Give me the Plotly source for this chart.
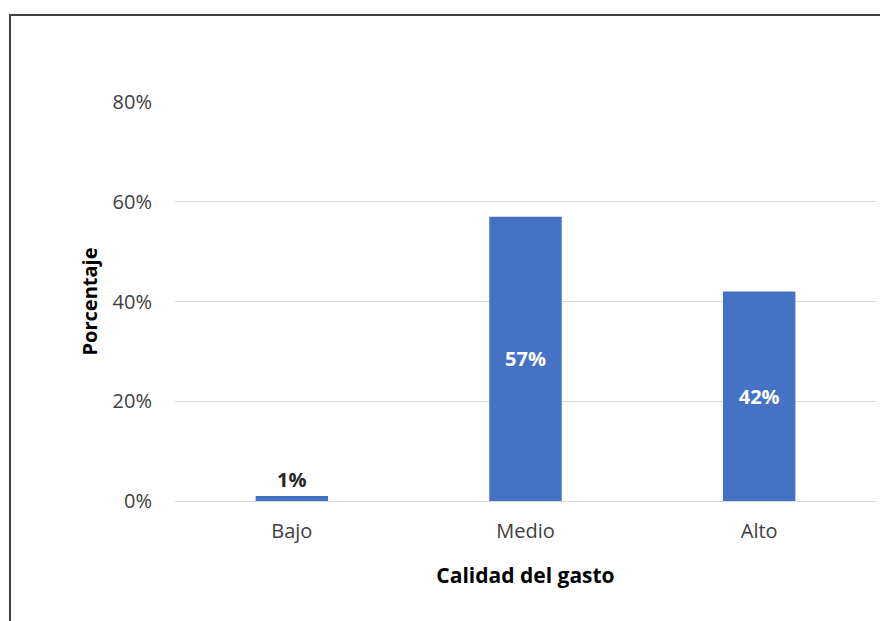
import plotly.graph_objects as go

categories = ["Bajo", "Medio", "Alto"]
values = [0.01, 0.57, 0.42]
labels = ["1%", "57%", "42%"]

FONT = "Open Sans"

fig = go.Figure()
fig.add_trace(go.Bar(
    x=categories, y=values,
    marker=dict(color="#4472C4", line=dict(width=0)),
    text=labels,
    textposition=["outside", "inside", "inside"],
    insidetextanchor="middle",
    textfont=dict(family=FONT, size=20, color=["#262626", "white", "white"], weight="bold"),
    cliponaxis=False,
))

fig.update_layout(
    width=880, height=613,
    margin=dict(l=167, r=12, t=94, b=120),
    paper_bgcolor="white", plot_bgcolor="white",
    bargap=0.69,
    showlegend=False,
    font=dict(family=FONT, color="#404040"),
    uniformtext=dict(mode=False),
    shapes=[dict(type="rect", xref="paper", yref="paper",
                 x0=-0.2354, x1=1.2, y0=-0.6, y1=1.218,
                 line=dict(color="#404040", width=2), fillcolor="rgba(0,0,0,0)", layer="below")],
)
fig.update_yaxes(
    range=[0, 0.8], tickvals=[0, 0.2, 0.4, 0.6, 0.8], tickformat=".0%",
    showgrid=True, gridcolor="#d9d9d9", gridwidth=1,
    zeroline=True, zerolinecolor="#d9d9d9", zerolinewidth=1,
    showline=False, ticks="",
    tickfont=dict(family=FONT, size=20, color="#404040"),
    ticklabelstandoff=22,
    title=dict(text="Porcentaje", font=dict(family=FONT, size=20, color="#000000", weight="bold"), standoff=9),
)
fig.update_xaxes(
    showline=False, ticks="", showgrid=False,
    tickfont=dict(family=FONT, size=20, color="#404040"),
    ticklabelstandoff=16,
    title=dict(text="Calidad del gasto", font=dict(family=FONT, size=21, color="#000000", weight="bold"), standoff=25),
)
fig.write_html("out.html")
